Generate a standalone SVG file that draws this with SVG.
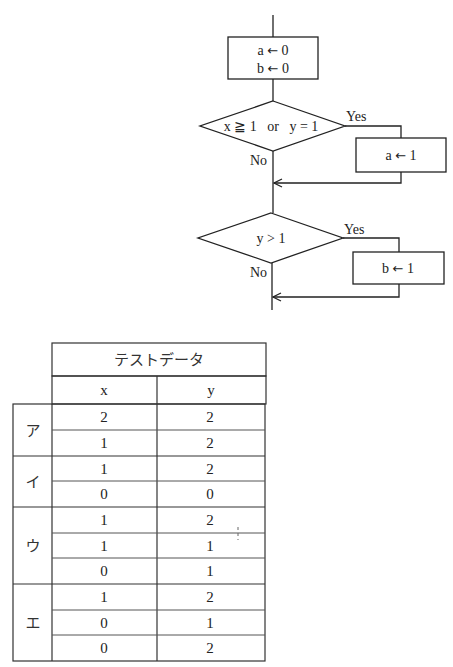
<svg xmlns="http://www.w3.org/2000/svg" width="453" height="667" viewBox="0 0 453 667">
<style>
.ln{fill:none;stroke:#222;stroke-width:1.3}
.bx{fill:#fff;stroke:#222;stroke-width:1.3}
.t{font-family:"Liberation Serif","DejaVu Serif",serif;font-size:14px;fill:#222;text-anchor:middle}
.ar{font-family:"DejaVu Sans",sans-serif;font-size:13px}
.tl{font-family:"Liberation Serif","DejaVu Serif",serif;font-size:14px;fill:#222}
.j{font-family:"Liberation Serif","Noto Sans CJK JP",sans-serif;font-size:15px;fill:#333;text-anchor:middle}
.tb{fill:none;stroke:#333;stroke-width:1.2}
.tt{font-family:"Liberation Serif","DejaVu Serif",serif;font-size:15px;fill:#222;text-anchor:middle}
</style>
<defs>
<marker id="ah" viewBox="0 0 10 10" refX="9" refY="5" markerWidth="10" markerHeight="10" markerUnits="userSpaceOnUse" orient="auto">
<polyline points="1,1 9,5 1,9" fill="none" stroke="#222" stroke-width="1.3"/>
</marker>
</defs>
<g id="connectors">
<line class="ln" x1="273" y1="15" x2="273" y2="37"/>
<line class="ln" x1="273" y1="79" x2="273" y2="101"/>
<line class="ln" x1="273" y1="151" x2="273" y2="213"/>
<polyline class="ln" points="345,126 401,126 401,138"/>
<polyline class="ln" points="401,172 401,183 274,183" marker-end="url(#ah)"/>
<line class="ln" x1="272" y1="263" x2="272" y2="310"/>
<polyline class="ln" points="343,238 399,238 399,252"/>
<polyline class="ln" points="399,284 399,297 273,297" marker-end="url(#ah)"/>
<text class="tl" x="346" y="121">Yes</text>
<text class="tl" x="250" y="165">No</text>
<text class="tl" x="344" y="234">Yes</text>
<text class="tl" x="250" y="277">No</text>
</g>
<g id="init">
<rect class="bx" x="228" y="37" width="90" height="42"/>
<text class="t" x="273" y="55">a <tspan class="ar">←</tspan> 0</text>
<text class="t" x="273" y="73">b <tspan class="ar">←</tspan> 0</text>
</g>
<g id="cond1">
<polygon class="bx" points="273,101 345,126 273,151 200,126"/>
<text class="t" x="271" y="131" xml:space="preserve">x ≧ 1   or   y = 1</text>
</g>
<g id="seta">
<rect class="bx" x="356" y="138" width="90" height="34"/>
<text class="t" x="401" y="160">a <tspan class="ar">←</tspan> 1</text>
</g>
<g id="cond2">
<polygon class="bx" points="271,213 343,238 271,263 198,238"/>
<text class="t" x="271" y="243">y &gt; 1</text>
</g>
<g id="setb">
<rect class="bx" x="353" y="252" width="91" height="32"/>
<text class="t" x="398" y="273">b <tspan class="ar">←</tspan> 1</text>
</g>
<g id="table">
<rect class="tb" x="52" y="343" width="214" height="33"/>
<text class="j" x="159" y="365">テストデータ</text>
<rect class="tb" x="52" y="376" width="214" height="28"/>
<line class="tb" x1="157" y1="376" x2="157" y2="404"/>
<text class="tt" x="104" y="395">x</text>
<text class="tt" x="211" y="395">y</text>
<rect class="tb" x="13" y="404" width="252" height="257"/>
<line class="tb" x1="52" y1="404" x2="52" y2="661"/>
<line class="tb" x1="157" y1="404" x2="157" y2="661"/>
<line class="tb" x1="13" y1="456" x2="265" y2="456"/>
<line class="tb" x1="13" y1="507" x2="265" y2="507"/>
<line class="tb" x1="13" y1="584" x2="265" y2="584"/>
<g stroke="#555" stroke-width="1">
<line x1="52" y1="430" x2="265" y2="430"/>
<line x1="52" y1="481" x2="265" y2="481"/>
<line x1="52" y1="533" x2="265" y2="533"/>
<line x1="52" y1="558" x2="265" y2="558"/>
<line x1="52" y1="610" x2="265" y2="610"/>
<line x1="52" y1="635" x2="265" y2="635"/>
</g>
<text class="j" x="33" y="436">ア</text>
<text class="j" x="33" y="487">イ</text>
<text class="j" x="33" y="551">ウ</text>
<text class="j" x="33" y="628">エ</text>
<text class="tt" x="104" y="422">2</text><text class="tt" x="210" y="422">2</text>
<text class="tt" x="104" y="448">1</text><text class="tt" x="210" y="448">2</text>
<text class="tt" x="104" y="474">1</text><text class="tt" x="210" y="474">2</text>
<text class="tt" x="104" y="499">0</text><text class="tt" x="210" y="499">0</text>
<text class="tt" x="104" y="525">1</text><text class="tt" x="210" y="525">2</text>
<text class="tt" x="104" y="551">1</text><text class="tt" x="210" y="551">1</text>
<text class="tt" x="104" y="576">0</text><text class="tt" x="210" y="576">1</text>
<text class="tt" x="104" y="602">1</text><text class="tt" x="210" y="602">2</text>
<text class="tt" x="104" y="628">0</text><text class="tt" x="210" y="628">1</text>
<text class="tt" x="104" y="653">0</text><text class="tt" x="210" y="653">2</text>
<line x1="238" y1="527" x2="238" y2="540" stroke="#666" stroke-width="1" stroke-dasharray="3,3"/>
</g>
</svg>
